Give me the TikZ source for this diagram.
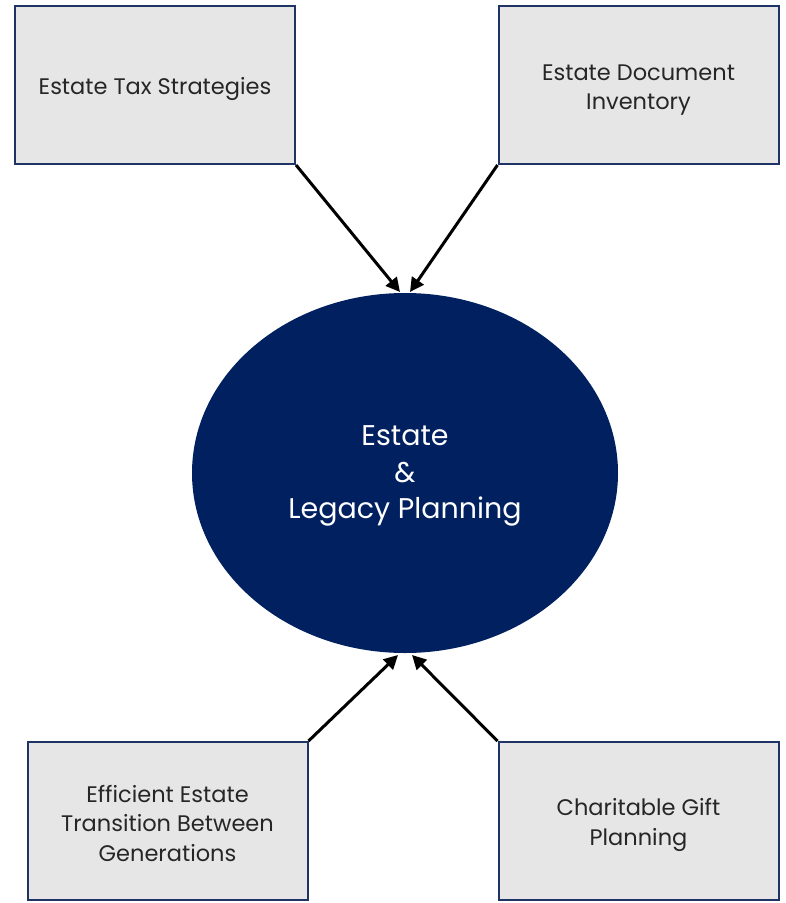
\documentclass[tikz,border=0pt]{standalone}
\usepackage{fontspec}
\setmainfont{Poppins}
\usetikzlibrary{shapes.geometric,arrows.meta}
\definecolor{navy}{HTML}{002060}
\definecolor{boxfill}{HTML}{E6E6E6}
\definecolor{boxline}{HTML}{1F3465}
\begin{document}
\begin{tikzpicture}[x=1pt,y=-1pt,
  boxnode/.style={draw=boxline,line width=2pt,fill=boxfill,minimum width=280pt,minimum height=158pt,inner sep=0pt},
  boxtext/.style={inner sep=0pt,align=center,font=\fontsize{22.5}{29.5}\selectfont,text=black!85},
  conn/.style={line width=3pt,-{Triangle[length=14pt,width=14pt]}}]
\useasboundingbox (0,0) rectangle (786,903);
\node[ellipse,fill=navy,minimum width=426pt,minimum height=360pt,inner sep=0pt] (c) at (405,473) {};
\node[text=white,align=center,font=\fontsize{28.5}{36.5}\selectfont,inner sep=0pt] (ct) at (405,476) {Estate\\\&\\Legacy Planning};
\node[boxnode] (tl) at (155,85) {};
\node[boxnode] (tr) at (638.5,85) {};
\node[boxnode] (bl) at (167.5,821) {};
\node[boxnode] (br) at (638.5,821) {};
\node[boxtext] (tlt) at (155,89) {Estate Tax Strategies};
\node[boxtext] (trt) at (638.5,90) {Estate Document\\Inventory};
\node[boxtext] (blt) at (167.5,823) {Efficient Estate\\Transition Between\\Generations};
\node[boxtext] (brt) at (638.5,825) {Charitable Gift\\Planning};
\draw[conn] (tl.south east) -- (400,292);
\draw[conn] (tr.south west) -- (410,292);
\draw[conn] (bl.north east) -- (398,655);
\draw[conn] (br.north west) -- (412,655);
\end{tikzpicture}
\end{document}
